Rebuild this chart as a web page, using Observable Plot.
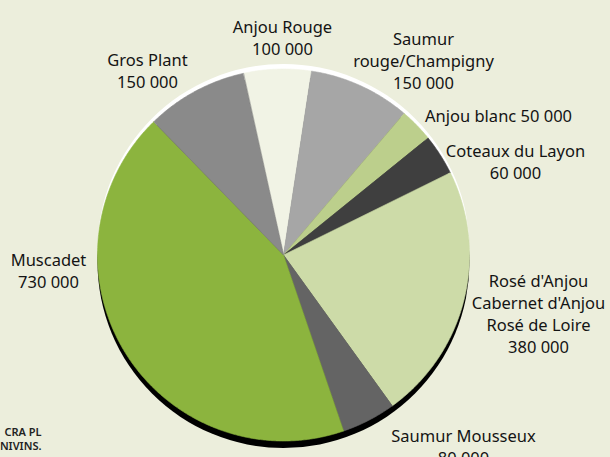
<!DOCTYPE html>
<html><head><meta charset="utf-8">
<script src="https://cdn.jsdelivr.net/npm/d3@7"></script>
<script src="https://cdn.jsdelivr.net/npm/@observablehq/plot@0.6"></script>
<style>html,body{margin:0;padding:0;background:#eceedc;overflow:hidden}</style>
</head><body><div id="chart"></div>
<script>
// ---- data ----
const categories = ["Anjou Rouge","Saumur rouge/Champigny","Anjou blanc","Coteaux du Layon","Rosé d'Anjou / Cabernet d'Anjou / Rosé de Loire","Saumur Mousseux","Muscadet","Gros Plant"];
const values = [100000,150000,50000,60000,380000,80000,730000,150000];
const labelNames = ["Anjou Rouge","Saumur\nrouge/Champigny","Anjou blanc","Coteaux du Layon","Rosé d'Anjou\nCabernet d'Anjou\nRosé de Loire","Saumur Mousseux","Muscadet","Gros Plant"];
const valueLabels = ["100 000","150 000","50 000","60 000","380 000","80 000","730 000","150 000"];
const sourceLines = ["CRA PL","ONIVINS."];

// ---- style / layout ----
const colors = ["#f1f3e5","#a6a6a6","#bccf8c","#3f3f3f","#cddba8","#646464","#8cb43e","#8a8a8a"];
const labelSep = ["\n","\n"," ","\n","\n","\n","\n","\n"];
const labelPos = [[282,29],[423,41],[498,118],[515,153],[538,283],[463,438],[48,262],[147,62]]; // first-line baselines
const W = 610, H = 457, cx = 283, cy = 254.5, R = 186, startDeg = -12.5;
const fs = 16.5, lh = 1.32, font = "Noto Sans";

const pie = d3.pie().sort(null).value(d => d.value)
  .startAngle(startDeg * Math.PI / 180).endAngle(startDeg * Math.PI / 180 + 2 * Math.PI);
const arcs = pie(categories.map((c, i) => ({c, value: values[i], i})));
const pts = [];
for (const a of arcs) {
  pts.push({i: a.data.i, x: cx, y: cy});
  const n = Math.max(2, Math.ceil((a.endAngle - a.startAngle) / (Math.PI / 360)));
  for (let k = 0; k <= n; k++) {
    const t = a.startAngle + (a.endAngle - a.startAngle) * k / n;
    pts.push({i: a.data.i, x: cx + R * Math.sin(t), y: cy - R * Math.cos(t)});
  }
}
const labels = categories.map((c, i) => ({
  text: labelNames[i] + labelSep[i] + valueLabels[i],
  x: labelPos[i][0], y: labelPos[i][1] - 0.71 * fs
}));

const sliceMarks = categories.map((c, i) =>
  Plot.line(pts.filter(p => p.i === i), {x: "x", y: "y", fill: colors[i], stroke: colors[i], strokeWidth: 0.6, curve: "linear-closed"}));

const chart = Plot.plot({
  width: W, height: H, margin: 0,
  style: {background: "#eceedc", fontFamily: font},
  x: {domain: [0, W], range: [0, W], axis: null},
  y: {domain: [0, H], range: [0, H], axis: null},
  marks: [
    Plot.dot([0], {x: () => cx, y: () => cy - 5, r: R, fill: "#ffffff", stroke: "none"}),
    Plot.dot([0], {x: () => cx, y: () => cy + 7, r: R, fill: "#000000", stroke: "none"}),
    ...sliceMarks,
    Plot.text(labels, {x: "x", y: "y", text: "text", fontSize: fs, lineHeight: lh, lineAnchor: "top", textAnchor: "middle", fill: "#141414", fontFamily: font}),
    Plot.text([sourceLines.join("\n")], {x: () => 41, y: () => 426.5, text: d => d, fontSize: 11, fontWeight: 600, lineHeight: 1.2, textAnchor: "end", lineAnchor: "top", fill: "#222", fontFamily: font})
  ]
});
document.getElementById("chart").appendChild(chart);
</script></body></html>
